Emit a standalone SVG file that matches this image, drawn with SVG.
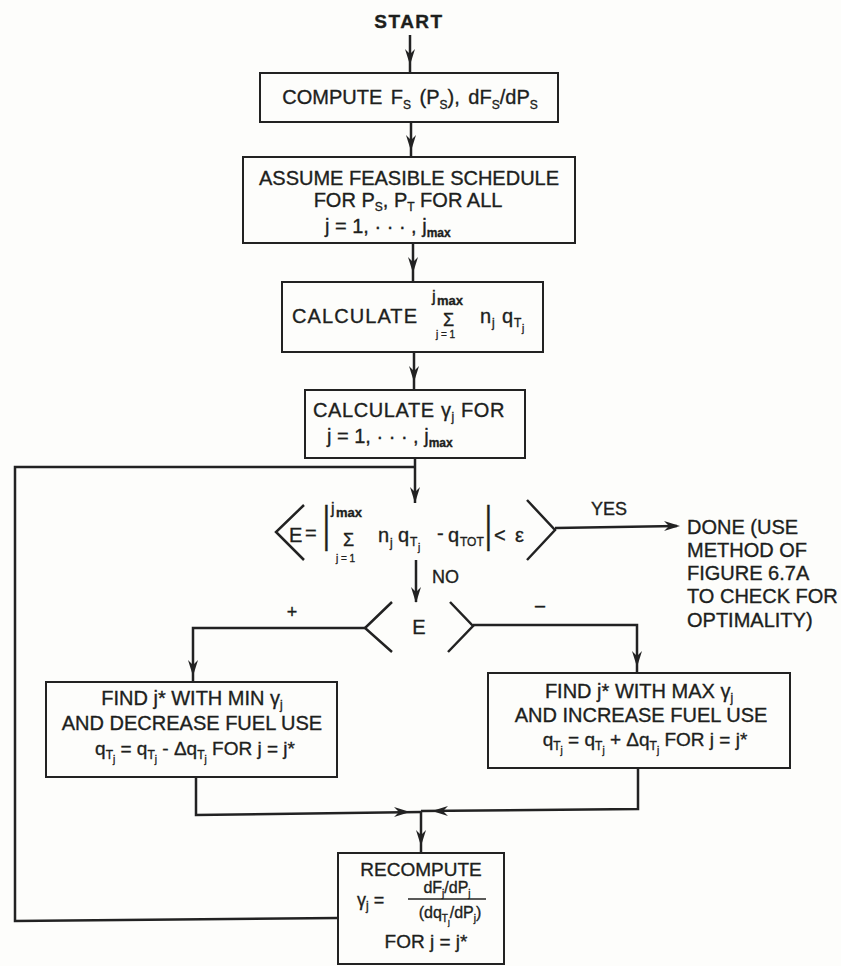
<svg xmlns="http://www.w3.org/2000/svg" xmlns:xlink="http://www.w3.org/1999/xlink" width="841" height="966" viewBox="0 0 841 966" font-size="20">
<style>
.t{font-family:"Liberation Sans",Arial,sans-serif;fill:#1d1f1d;stroke:#1d1f1d;stroke-width:0.35}
.sb{font-size:12px}
.ss{font-size:10px}
.bx{fill:none;stroke:#222;stroke-width:2}
.ln{fill:none;stroke:#222;stroke-width:2.5;stroke-linejoin:miter}
.ah{fill:#222;stroke:none}
</style>
<defs>
<path id="ah" d="M0,0 L-5,-16 L0,-11 L5,-16 Z"/>
</defs>
<rect width="841" height="966" fill="#fdfdfb"/>

<g id="connectors">
<line class="ln" x1="410" y1="35" x2="410" y2="73"/>
<use href="#ah" class="ah" transform="translate(410,65)"/>
<line class="ln" x1="411" y1="122" x2="411" y2="157"/>
<use href="#ah" class="ah" transform="translate(411,151)"/>
<line class="ln" x1="413" y1="243" x2="413" y2="282"/>
<use href="#ah" class="ah" transform="translate(413,273)"/>
<line class="ln" x1="414" y1="352" x2="414" y2="390"/>
<use href="#ah" class="ah" transform="translate(414,382)"/>
<line class="ln" x1="415" y1="458" x2="415" y2="503"/>
<use href="#ah" class="ah" transform="translate(415,503)"/>
<polyline class="ln" points="338,918 15,921 15,467 415,467"/>
<polyline class="ln" points="555,528 677,526"/>
<use href="#ah" class="ah" transform="translate(680,526) rotate(-90)"/>
<line class="ln" x1="416" y1="560" x2="416" y2="602"/>
<use href="#ah" class="ah" transform="translate(416,603)"/>
<polyline class="ln" points="365,628 193,628 193,682"/>
<use href="#ah" class="ah" transform="translate(193,676)"/>
<polyline class="ln" points="473,625 637,625 637,673"/>
<use href="#ah" class="ah" transform="translate(637,667)"/>
<polyline class="ln" points="196,777 196,815 421,812"/>
<use href="#ah" class="ah" transform="translate(410,812) rotate(-90)"/>
<polyline class="ln" points="638,768 638,809 421,811"/>
<use href="#ah" class="ah" transform="translate(432,811) rotate(90)"/>
<line class="ln" x1="421" y1="811" x2="421" y2="853"/>
<use href="#ah" class="ah" transform="translate(421,846)"/>
</g>

<g id="start">
<text class="t" x="409" y="28" text-anchor="middle" font-size="19" font-weight="bold" letter-spacing="1.5">START</text>
</g>

<g id="compute">
<rect class="bx" x="260" y="73" width="298" height="49"/>
<text class="t" x="410" y="104" text-anchor="middle" word-spacing="3">COMPUTE F<tspan class="sb" dy="5">S</tspan><tspan dy="-5"> (P</tspan><tspan class="sb" dy="5">S</tspan><tspan dy="-5">), dF</tspan><tspan class="sb" dy="5">S</tspan><tspan dy="-5">/dP</tspan><tspan class="sb" dy="5">S</tspan></text>
</g>

<g id="assume">
<rect class="bx" x="243" y="157" width="332" height="86"/>
<text class="t" x="409" y="185" text-anchor="middle">ASSUME FEASIBLE SCHEDULE</text>
<text class="t" x="408" y="207" text-anchor="middle">FOR P<tspan class="sb" dy="4">S</tspan><tspan dy="-4">, P</tspan><tspan class="sb" dy="4">T</tspan><tspan dy="-4">  FOR ALL</tspan></text>
<text class="t" x="325" y="233">j = 1, · · · , j<tspan class="sb" font-weight="bold" dy="4">max</tspan></text>
</g>

<g id="calc-sum">
<rect class="bx" x="282" y="282" width="261" height="70"/>
<text class="t" x="292" y="323" textLength="125">CALCULATE</text>
<text class="t" x="432" y="302" font-size="17">j</text>
<text class="t" x="437" y="305" font-size="13" font-weight="bold">max</text>
<text class="t" x="443" y="326" font-size="18">Σ</text>
<text class="t" x="436" y="338" font-size="10">j = 1</text>
<text class="t" x="480" y="323">n</text>
<text class="t" x="492" y="327" font-size="12">j</text>
<text class="t" x="502" y="323">q</text>
<text class="t" x="514" y="327" font-size="12">T</text>
<text class="t" x="522" y="332" font-size="10">j</text>
</g>

<g id="calc-gamma">
<rect class="bx" x="305" y="390" width="220" height="68"/>
<text class="t" x="313" y="417" letter-spacing="0.6">CALCULATE γ<tspan class="sb" dy="4">j</tspan><tspan dy="-4"> FOR</tspan></text>
<text class="t" x="327" y="443">j = 1, · · · , j<tspan class="sb" font-weight="bold" dy="4">max</tspan></text>
</g>

<g id="decision-converge">
<polyline class="ln" points="304,505 276,532 304,560"/>
<polyline class="ln" points="527,500 555,530 527,560"/>
<text class="t" x="289" y="542">E</text>
<text class="t" x="305" y="540">=</text>
<text class="t" transform="translate(323,541) scale(1,1.9)" font-size="26">|</text>
<text class="t" x="331" y="514" font-size="16">j</text>
<text class="t" x="336" y="517" font-size="13" font-weight="bold">max</text>
<text class="t" x="343" y="546" font-size="18">Σ</text>
<text class="t" x="336" y="562" font-size="10">j = 1</text>
<text class="t" x="378" y="542">n</text>
<text class="t" x="390" y="547" font-size="12">j</text>
<text class="t" x="398" y="542">q</text>
<text class="t" x="410" y="546" font-size="12">T</text>
<text class="t" x="418" y="551" font-size="10">j</text>
<text class="t" x="437" y="540">-</text>
<text class="t" x="448" y="542">q</text>
<text class="t" x="460" y="546" font-size="12">TOT</text>
<text class="t" transform="translate(485,541) scale(1,1.9)" font-size="26">|</text>
<text class="t" x="494" y="542">&lt;</text>
<text class="t" x="515" y="542">ε</text>
<text class="t" x="591" y="515" font-size="18">YES</text>
<text class="t" x="432" y="583" font-size="18">NO</text>
</g>

<g id="done">
<text class="t" x="687" y="534">DONE (USE</text>
<text class="t" x="687" y="557">METHOD OF</text>
<text class="t" x="687" y="580">FIGURE 6.7A</text>
<text class="t" x="687" y="603">TO CHECK FOR</text>
<text class="t" x="687" y="627">OPTIMALITY)</text>
</g>

<g id="decision-sign">
<polyline class="ln" points="392,602 365,628 392,652"/>
<polyline class="ln" points="450,602 473,626 448,652"/>
<text class="t" x="419" y="634" text-anchor="middle">E</text>
<text class="t" x="292" y="618" text-anchor="middle" font-size="18">+</text>
<text class="t" x="540" y="611" text-anchor="middle" font-size="18">–</text>
</g>

<g id="decrease">
<rect class="bx" x="46" y="682" width="291" height="95"/>
<text class="t" x="192" y="705" text-anchor="middle">FIND j* WITH MIN γ<tspan class="sb" dy="4">j</tspan></text>
<text class="t" x="192" y="730" text-anchor="middle">AND DECREASE FUEL USE</text>
<text class="t" x="195" y="755" text-anchor="middle" font-size="19">q<tspan class="sb" dy="4">T</tspan><tspan class="ss" dy="4">j</tspan><tspan dy="-8"> = q</tspan><tspan class="sb" dy="4">T</tspan><tspan class="ss" dy="4">j</tspan><tspan dy="-8">  - Δq</tspan><tspan class="sb" dy="4">T</tspan><tspan class="ss" dy="4">j</tspan><tspan dy="-8"> FOR j = j*</tspan></text>
</g>

<g id="increase">
<rect class="bx" x="488" y="673" width="302" height="95"/>
<text class="t" x="639" y="698" text-anchor="middle">FIND j* WITH MAX γ<tspan class="sb" dy="4">j</tspan></text>
<text class="t" x="641" y="722" text-anchor="middle">AND INCREASE FUEL USE</text>
<text class="t" x="645" y="746" text-anchor="middle" font-size="19">q<tspan class="sb" dy="4">T</tspan><tspan class="ss" dy="4">j</tspan><tspan dy="-8"> = q</tspan><tspan class="sb" dy="4">T</tspan><tspan class="ss" dy="4">j</tspan><tspan dy="-8"> + Δq</tspan><tspan class="sb" dy="4">T</tspan><tspan class="ss" dy="4">j</tspan><tspan dy="-8"> FOR j = j*</tspan></text>
</g>

<g id="recompute">
<rect class="bx" x="338" y="853" width="166" height="111"/>
<text class="t" x="421" y="876" text-anchor="middle" font-size="19">RECOMPUTE</text>
<text class="t" x="357" y="906" font-size="18">γ<tspan class="sb" dy="4">j</tspan><tspan dy="-4"> =</tspan></text>
<text class="t" x="447" y="893" text-anchor="middle" font-size="16">dF<tspan class="ss" dy="4">j</tspan><tspan dy="-4">/dP</tspan><tspan class="ss" dy="4">j</tspan></text>
<line x1="408" y1="899" x2="486" y2="899" stroke="#222" stroke-width="1.5"/>
<text class="t" x="450" y="918" text-anchor="middle" font-size="16">(dq<tspan class="ss" dy="4">T</tspan><tspan font-size="8" dy="3">j</tspan><tspan dy="-7">/dP</tspan><tspan class="ss" dy="4">j</tspan><tspan dy="-4">)</tspan></text>
<text class="t" x="426" y="948" text-anchor="middle" font-size="19">FOR j = j*</text>
</g>
</svg>
